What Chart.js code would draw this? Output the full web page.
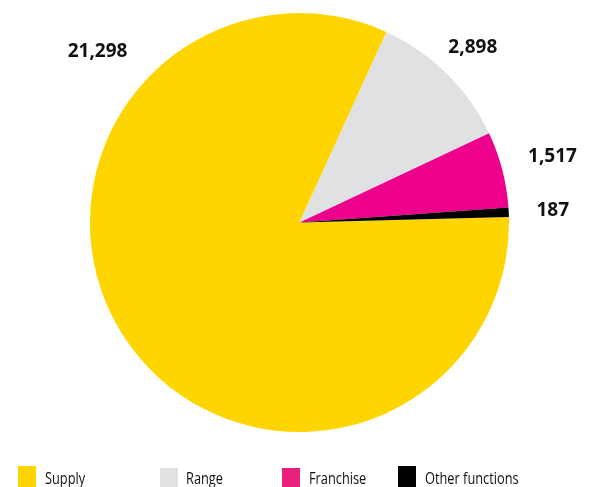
<!DOCTYPE html>
<html>
<head>
<meta charset="utf-8">
<script src="https://cdn.jsdelivr.net/npm/chart.js@4"></script>
<style>
    html, body { margin: 0; padding: 0; background: #fff; overflow: hidden; }
    #wrap { position: relative; width: 606px; height: 487px; }
    .lg-box { position: absolute; width: 18px; height: 21px; }
    .lg-text { position: absolute; top: 468px; font-family: "Open Sans", sans-serif; font-size: 16px; color: #111;
               transform: scaleX(0.8); transform-origin: 0 0; white-space: nowrap; line-height: 20px; }
</style>
</head>
<body>
<div id="wrap">
    <canvas id="pieChart" width="606" height="487"></canvas>
    <div id="legend"></div>
</div>
<script>
const categories = ['Supply', 'Range', 'Franchise', 'Other functions'];
const values = [21298, 2898, 1517, 187];
const valueLabels = ['21,298', '2,898', '1,517', '187'];
const sliceColors = ['#FFD500', '#E0E1E3', '#EC008C', '#000000'];
const legendColors = ['#FFD500', '#E0E1E3', '#EA1F7A', '#000000'];

// where along each slice the number sits (fraction of arc) and how far outside the rim
const labelAlong = [0.749, 0.5, 0.5, 0.5];
const labelGap = [55, 37, 52, 44];

const valueLabelPlugin = {
    id: 'valueLabels',
    afterDatasetsDraw(chart) {
        const ctx = chart.ctx;
        const meta = chart.getDatasetMeta(0);
        ctx.save();
        ctx.font = 'bold 19px "Open Sans", sans-serif';
        ctx.fillStyle = '#111';
        ctx.textAlign = 'center';
        ctx.textBaseline = 'middle';
        meta.data.forEach((arc, i) => {
            const a = arc.startAngle + (arc.endAngle - arc.startAngle) * labelAlong[i];
            const r = arc.outerRadius + labelGap[i];
            ctx.fillText(valueLabels[i], arc.x + Math.cos(a) * r, arc.y + Math.sin(a) * r);
        });
        ctx.restore();
    }
};

new Chart(document.getElementById('pieChart').getContext('2d'), {
    type: 'pie',
    data: {
        labels: categories,
        datasets: [{
            data: values,
            backgroundColor: sliceColors,
            borderWidth: 0
        }]
    },
    options: {
        responsive: false,
        animation: false,
        rotation: 88.5,
        layout: { padding: { left: 90, right: 97, top: 13, bottom: 55 } },
        plugins: {
            legend: { display: false },
            tooltip: { enabled: false }
        }
    },
    plugins: [valueLabelPlugin]
});

// legend laid out like the original (uneven spacing)
const legendBoxX = [18, 160, 282, 398];
const legendBoxY = [466, 468, 468, 466];
const legendTextX = [45, 186, 309, 425];
const legend = document.getElementById('legend');
categories.forEach((c, i) => {
    const box = document.createElement('div');
    box.className = 'lg-box';
    box.style.left = legendBoxX[i] + 'px';
    box.style.top = legendBoxY[i] + 'px';
    box.style.background = legendColors[i];
    legend.appendChild(box);
    const t = document.createElement('div');
    t.className = 'lg-text';
    t.style.left = legendTextX[i] + 'px';
    t.textContent = c;
    legend.appendChild(t);
});
</script>
</body>
</html>
